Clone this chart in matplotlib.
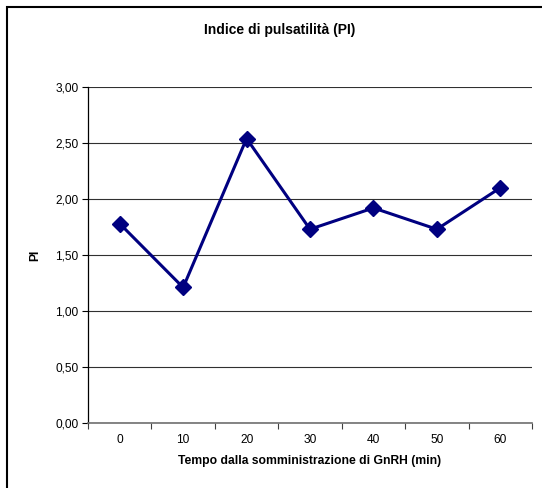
import matplotlib
matplotlib.use("Agg")
import matplotlib.pyplot as plt
from matplotlib.patches import Rectangle
from matplotlib.ticker import FixedLocator, NullFormatter

categories = ["0", "10", "20", "30", "40", "50", "60"]
pi_values = [1.78, 1.21, 2.54, 1.73, 1.92, 1.73, 2.10]
y_ticks = [0.0, 0.5, 1.0, 1.5, 2.0, 2.5, 3.0]
y_tick_labels = ["0,00", "0,50", "1,00", "1,50", "2,00", "2,50", "3,00"]

plt.rcParams['font.family'] = ['Liberation Sans', 'DejaVu Sans']

W, H = 542, 488
fig = plt.figure(figsize=(W / 100, H / 100), dpi=100)

# outer chart border (cropped at right and bottom)
fig.patches.append(Rectangle((7 / W, -0.1), 1.2, 1 - 7 / H + 0.1,
                             transform=fig.transFigure, fill=False,
                             edgecolor='black', linewidth=1.5))

left, right, top, bottom = 88, 532, 87, 423
ax = fig.add_axes([left / W, 1 - bottom / H, (right - left) / W, (bottom - top) / H])

x = list(range(len(categories)))
ax.plot(x, pi_values, color='#000080', linewidth=2.2, marker='D',
        markersize=8, markerfacecolor='#000080', markeredgecolor='#000080',
        zorder=3, clip_on=False)

ax.set_xlim(-0.5, len(categories) - 0.5)
ax.set_ylim(0, 3.0)
ax.set_yticks(y_ticks)
ax.set_yticklabels(y_tick_labels)
ax.set_xticks(x)
ax.set_xticklabels(categories)
ax.tick_params(axis='x', which='major', length=0, pad=8, labelsize=8.6)
ax.xaxis.set_minor_locator(FixedLocator([i - 0.5 for i in range(len(categories) + 1)]))
ax.xaxis.set_minor_formatter(NullFormatter())
ax.tick_params(axis='x', which='minor', length=4, width=0.8, color='#404040', direction='out')
ax.tick_params(axis='y', length=4, width=0.8, direction='out', labelsize=8.6, pad=3)

ax.yaxis.grid(True, color='#303030', linewidth=0.8)
ax.set_axisbelow(True)
for s in ['top', 'right']:
    ax.spines[s].set_visible(False)
ax.spines['left'].set_color('black')
ax.spines['left'].set_linewidth(0.9)
ax.spines['bottom'].set_color('#707070')
ax.spines['bottom'].set_linewidth(1.2)

fig.text(280 / W, 1 - 30 / H, "Indice di pulsatilità (PI)", ha='center', va='center',
         fontsize=10, fontweight='bold')
fig.text(35 / W, 1 - 255 / H, "PI", ha='center', va='center', rotation=90,
         fontsize=8.7, fontweight='bold')
fig.text(310 / W, 1 - 461 / H, "Tempo dalla somministrazione di GnRH (min)",
         ha='center', va='center', fontsize=8.75, fontweight='bold')

fig.savefig("out.png", dpi=100)
